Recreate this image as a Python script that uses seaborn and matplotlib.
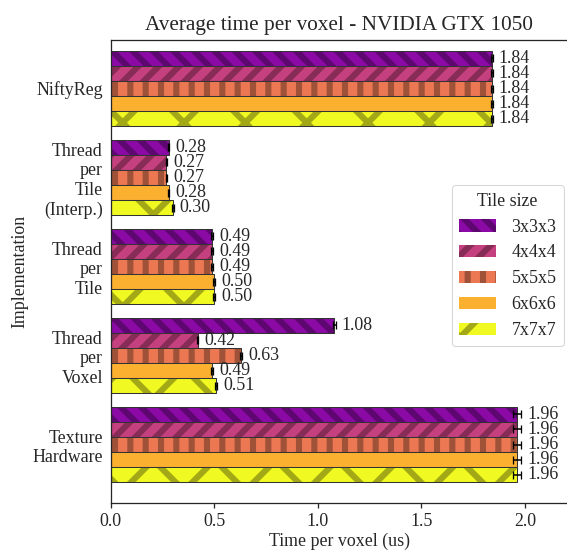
import matplotlib
matplotlib.use("Agg")
import matplotlib.pyplot as plt
import matplotlib.colors as mcolors
import seaborn as sns
import pandas as pd
import numpy as np

# =========================
# AVERAGE TIME PER VOXEL - GTX 1050
# =========================

implementations = ["NiftyReg", "Thread\nper\nTile\n(Interp.)", "Thread\nper\nTile",
                   "Thread\nper\nVoxel", "Texture\nHardware"]
tile_sizes = ["3x3x3", "4x4x4", "5x5x5", "6x6x6", "7x7x7"]

# one list per tile size, ordered like implementations
t_3x3x3 = [1.84, 0.28, 0.49, 1.08, 1.96]
t_4x4x4 = [1.84, 0.27, 0.49, 0.42, 1.96]
t_5x5x5 = [1.84, 0.27, 0.49, 0.63, 1.96]
t_6x6x6 = [1.84, 0.28, 0.50, 0.49, 1.96]
t_7x7x7 = [1.84, 0.30, 0.50, 0.51, 1.96]

e_3x3x3 = [0.004, 0.004, 0.004, 0.006, 0.02]
e_4x4x4 = [0.004, 0.004, 0.004, 0.004, 0.02]
e_5x5x5 = [0.004, 0.004, 0.004, 0.006, 0.02]
e_6x6x6 = [0.004, 0.004, 0.004, 0.004, 0.02]
e_7x7x7 = [0.004, 0.004, 0.004, 0.004, 0.02]

times = [t_3x3x3, t_4x4x4, t_5x5x5, t_6x6x6, t_7x7x7]
errors = [e_3x3x3, e_4x4x4, e_5x5x5, e_6x6x6, e_7x7x7]

rows = []
for ts, vals, errs in zip(tile_sizes, times, errors):
    for impl, v, e in zip(implementations, vals, errs):
        rows.append({"Implementation": impl, "Time": v, "Err": e, "Tile size": ts})
df = pd.DataFrame(rows)

colors = ["#8b0aa5", "#c5407e", "#ec7853", "#fbb030", "#f0f921"]
hatches = ["\\\\\\", "///", "||", "", "x"]

sns.set_style("ticks")
plt.rcParams['font.family'] = ['Liberation Serif', 'DejaVu Serif']
plt.rcParams['hatch.linewidth'] = 2.4

DPI = 184
fs = 7.0
fig = plt.figure(figsize=(567 / DPI, 553 / DPI), dpi=DPI)
ax = fig.add_axes([110.5 / 567, 1 - 503 / 553, 1.002 - 110.5 / 567, (503 - 40) / 553])

sns.barplot(data=df, y="Implementation", x="Time", hue="Tile size", orient="h",
            order=implementations, hue_order=tile_sizes, palette=colors, saturation=1,
            width=0.845, errorbar=None, edgecolor="#333333", linewidth=0.4, ax=ax)


def hatch_col(c):
    r, g, b = mcolors.to_rgb(c)
    return (r * 0.68, g * 0.68, b * 0.68, 1.0)


def set_hc(p, c):
    if hasattr(p, "set_hatchcolor"):
        p.set_hatchcolor(c)
    else:
        p._hatch_color = c


for cont, col, h, errs in zip(ax.containers, colors, hatches, errors):
    for bar, e in zip(cont, errs):
        bar.set_hatch(h)
        set_hc(bar, hatch_col(col))
        w = bar.get_width()
        yc = bar.get_y() + bar.get_height() / 2
        ax.errorbar(w, yc, xerr=e, fmt="none", ecolor="black", elinewidth=0.6,
                    capsize=1.6, capthick=0.5)
        ax.annotate(f"{w:.2f}", (w + e, yc), xytext=(2.4, 0), textcoords="offset points",
                    va="center", ha="left", fontsize=fs)

ax.set_xlim(0, 2.208)
ax.set_ylim(4.657, -0.545)
ax.set_xticks([0, 0.5, 1.0, 1.5, 2.0])
ax.tick_params(axis="x", labelsize=fs, length=2, width=0.5, pad=2)
ax.tick_params(axis="y", labelsize=fs, length=0, pad=3)
for s in ax.spines.values():
    s.set_linewidth(0.5)
ax.set_xlabel("Time per voxel (us)", fontsize=fs, labelpad=1)
ax.set_ylabel("Implementation", fontsize=fs, labelpad=1.5)
ax.set_title("Average time per voxel - NVIDIA GTX 1050", fontsize=8.3, pad=4)

handles = [cont[0] for cont in ax.containers]
ax.get_legend().remove()
leg = ax.legend(handles, tile_sizes, title="Tile size", fontsize=fs, title_fontsize=fs,
                loc="center right", bbox_to_anchor=(1.0, 0.512), borderaxespad=0.25,
                handlelength=2.1, handleheight=0.7, handletextpad=0.85,
                labelspacing=0.5, frameon=True, fancybox=True)
leg.get_frame().set_linewidth(0.4)
for hnd, col in zip(leg.legend_handles, colors):
    hnd.set_edgecolor("none")
    set_hc(hnd, hatch_col(col))

fig.savefig("out.png", dpi=DPI)
